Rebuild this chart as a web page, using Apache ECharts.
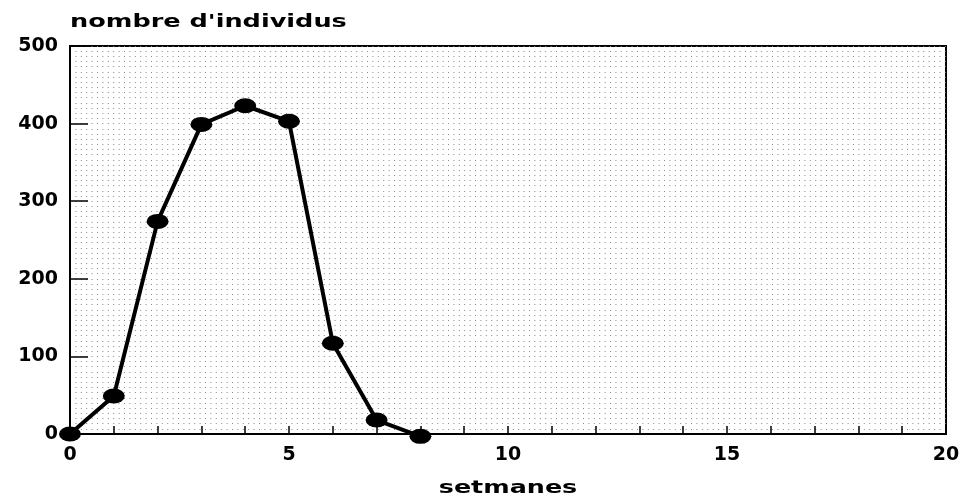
<!DOCTYPE html>
<html><head><meta charset="utf-8">
<script src="https://cdn.jsdelivr.net/npm/echarts@6/dist/echarts.min.js"></script>
<style>html,body{margin:0;padding:0;background:#fff}#c{width:970px;height:496px}</style>
</head><body><div id="c"></div>
<script>
const weeks = [0, 1, 2, 3, 4, 5, 6, 7, 8];
const individuals = [0, 49, 274, 399, 423, 403, 117, 18, -3];
const xTickLabels = [0, 5, 10, 15, 20];
const yTickLabels = [0, 100, 200, 300, 400, 500];
const xTitle = 'setmanes';
const yTitle = "nombre d'individus";

const font = 'DejaVu Sans';
const dotLine = { color: '#8a8a8a', width: 1, type: [1, 4.4] };
const chart = echarts.init(document.getElementById('c'));
chart.setOption({
  animation: false,
  backgroundColor: '#fff',
  grid: { left: 70, right: 24, top: 46, bottom: 62, show: true, borderColor: '#000', borderWidth: 2, backgroundColor: 'transparent' },
  graphic: [
    { type: 'text', x: 70, y: 22, scaleX: 1.42, silent: true,
      style: { text: yTitle, fill: '#000', font: 'bold 18px "DejaVu Sans"', textAlign: 'left', verticalAlign: 'middle', textVerticalAlign: 'middle' } },
    { type: 'text', x: 508, y: 488, scaleX: 1.41, silent: true,
      style: { text: xTitle, fill: '#000', font: 'bold 18px "DejaVu Sans"', textAlign: 'center', verticalAlign: 'middle', textVerticalAlign: 'middle' } }
  ],
  xAxis: {
    type: 'value', min: 0, max: 20, interval: 1,
    axisLine: { show: true, lineStyle: { color: '#000', width: 2 } },
    axisTick: { show: true, inside: true, length: 8, lineStyle: { color: '#000', width: 1.5 } },
    axisLabel: { color: '#000', fontFamily: font, fontWeight: 'bold', fontSize: 19, margin: 12,
      formatter: v => xTickLabels.includes(v) ? String(v) : '' },
    splitLine: { show: false }
  },
  yAxis: {
    type: 'value', min: 0, max: 500, interval: 100,
    axisLine: { show: true, lineStyle: { color: '#000', width: 2 } },
    axisTick: { show: true, inside: true, length: 18, lineStyle: { color: '#000', width: 1.5 } },
    axisLabel: { color: '#000', fontFamily: font, fontWeight: 'bold', fontSize: 19, margin: 12,
      formatter: v => yTickLabels.includes(v) ? String(v) : '' },
    splitLine: { show: true, lineStyle: dotLine },
    minorTick: { show: false, splitNumber: 15 },
    minorSplitLine: { show: true, lineStyle: dotLine }
  },
  series: [{
    type: 'line',
    data: weeks.map((w, i) => [w, individuals[i]]),
    symbol: 'circle', symbolSize: [22, 15],
    itemStyle: { color: '#000' },
    lineStyle: { color: '#000', width: 4 },
    clip: false
  }]
});
</script></body></html>
